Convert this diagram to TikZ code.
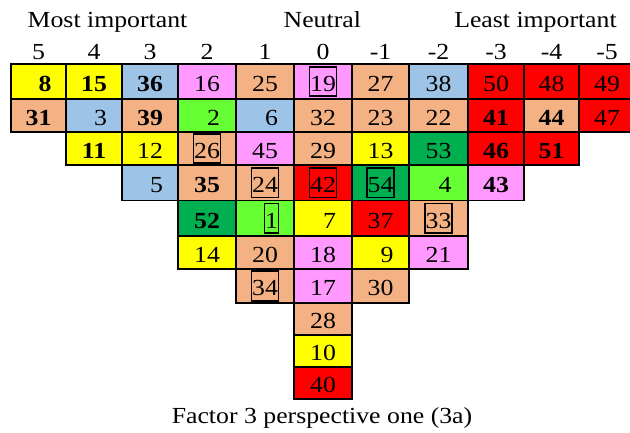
\documentclass[tikz,border=0pt]{standalone}
\usepackage{fontspec}
\setmainfont{Liberation Serif}[FakeStretch=1.12]
\definecolor{qyellow}{HTML}{FFFF00}
\definecolor{qblue}{HTML}{9DC3E6}
\definecolor{qpink}{HTML}{FF99FF}
\definecolor{qsalmon}{HTML}{F4B183}
\definecolor{qlime}{HTML}{66FF33}
\definecolor{qgreen}{HTML}{00B050}
\definecolor{qred}{HTML}{FF0000}
\newcommand\qfont{\fontsize{23}{27}\selectfont}
% column edges and row edges (pt, from the top left corner)
\newcommand\colpos[1]{\ifcase\numexpr#1\relax 11\or66\or122\or178\or236\or294\or352\or409\or468\or524\or579\or635\fi}
\newcommand\rowpos[1]{\ifcase\numexpr#1\relax 64\or99\or132\or165\or200.5\or236\or269\or303\or335\or367\or399\fi}
\tikzset{
  qcell/.style={draw, line width=1.8pt, inner sep=0pt, font=\qfont, text height=19.5pt, text depth=0pt},
  qbox/.style={draw, line width=1.6pt, inner xsep=0.5pt, inner ysep=0pt, minimum height=29.5pt, font=\qfont, text height=19.5pt, text depth=0pt},
  qlabel/.style={anchor=base, inner sep=0pt, font=\qfont}
}
\begin{document}
\begin{tikzpicture}
    \useasboundingbox (0,0) rectangle (630pt,-432pt);
    % headings
    \node[qlabel] (most) at (107.5pt,-27.7pt) {Most important};
    \node[qlabel] (neutral) at (322.3pt,-27.7pt) {Neutral};
    \node[qlabel] (least) at (535.5pt,-27.7pt) {Least important};
    % scores
    \foreach \lab [count=\c from 0] in {5,4,3,2,1,0,-1,-2,-3,-4,-5}{
        \pgfmathsetmacro\xc{(\colpos{\c}+\colpos{\c+1})/2}
        \node[qlabel] (score-\c) at (\xc pt,-59.3pt) {\lab};
    }
    % statements
    \foreach \c/\r/\col/\t in {
        0/1/qyellow/{\phantom{0}\textbf{8}}, 0/2/qsalmon/\textbf{31},
        1/1/qyellow/\textbf{15}, 1/2/qblue/{\phantom{0}3}, 1/3/qyellow/\textbf{11},
        2/1/qblue/\textbf{36}, 2/2/qsalmon/\textbf{39}, 2/3/qyellow/12, 2/4/qblue/{\phantom{0}5},
        3/1/qpink/16, 3/2/qlime/{\phantom{0}2}, 3/3/qsalmon/{}, 3/4/qsalmon/\textbf{35},
        3/5/qgreen/\textbf{52}, 3/6/qyellow/14,
        4/1/qsalmon/25, 4/2/qblue/{\phantom{0}6}, 4/3/qpink/45, 4/4/qsalmon/{}, 4/5/qlime/{},
        4/6/qsalmon/20, 4/7/qsalmon/{},
        5/1/qpink/{}, 5/2/qsalmon/32, 5/3/qsalmon/29, 5/4/qred/{}, 5/5/qyellow/{\phantom{0}7},
        5/6/qpink/18, 5/7/qpink/17, 5/8/qsalmon/28, 5/9/qyellow/10, 5/10/qred/40,
        6/1/qsalmon/27, 6/2/qsalmon/23, 6/3/qyellow/13, 6/4/qgreen/{}, 6/5/qred/37,
        6/6/qyellow/{\phantom{0}9}, 6/7/qsalmon/30,
        7/1/qblue/38, 7/2/qsalmon/22, 7/3/qgreen/53, 7/4/qlime/{\phantom{0}4}, 7/5/qsalmon/{},
        7/6/qpink/21,
        8/1/qred/50, 8/2/qred/\textbf{41}, 8/3/qred/\textbf{46}, 8/4/qpink/\textbf{43},
        9/1/qred/48, 9/2/qsalmon/\textbf{44}, 9/3/qred/\textbf{51},
        10/1/qred/49, 10/2/qred/47}{
        \pgfmathsetmacro\xl{\colpos{\c}}
        \pgfmathsetmacro\xr{\colpos{\c+1}}
        \pgfmathsetmacro\yt{\rowpos{\r-1}}
        \pgfmathsetmacro\yb{\rowpos{\r}}
        \pgfmathsetmacro\w{\xr-\xl}
        \pgfmathsetmacro\h{\yb-\yt}
        \pgfmathsetmacro\xc{(\xl+\xr)/2}
        \pgfmathsetmacro\yc{(\yt+\yb)/2}
        \node[qcell, fill=\col, minimum width=\w pt, minimum height=\h pt] (cell-\c-\r) at (\xc pt,-\yc pt) {\t};
    }
    % boxed statements
    \foreach \c/\r/\col/\t in {3/3/qsalmon/26, 4/4/qsalmon/24, 4/7/qsalmon/34, 5/1/qpink/19,
        5/4/qred/42, 6/4/qgreen/54, 7/5/qsalmon/33}
        \node[qbox, fill=\col] (box-\c-\r) at (cell-\c-\r) {\t};
    \node[qbox, fill=qlime, xshift=6.45pt] (box-4-5) at (cell-4-5) {1};
    % caption
    \node[qlabel] (caption) at (322pt,-423.3pt) {Factor 3 perspective one (3a)};
\end{tikzpicture}
\end{document}
